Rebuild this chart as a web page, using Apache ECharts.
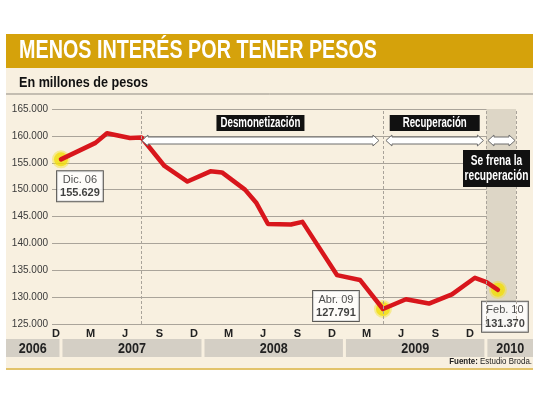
<!DOCTYPE html>
<html>
<head>
<meta charset="utf-8">
<script src="https://cdn.jsdelivr.net/npm/echarts@6/dist/echarts.min.js"></script>
<style>
html,body{margin:0;padding:0;background:#fff;}
#chart{width:540px;height:405px;}
</style>
</head>
<body>
<div id="chart"></div>
<script>
// ---- data ----
const titleText = 'MENOS INTERÉS POR TENER PESOS';
const subtitleText = 'En millones de pesos';
const sourceBold = 'Fuente:';
const sourceText = ' Estudio Broda.';
// month index: 0 = Dic 2006
const months = [0, 3, 4, 6, 7, 9, 11, 13, 14, 16, 17, 18, 20, 21, 22, 24, 26, 28, 30, 32, 34, 36, 37, 38];
const reserves = [155629, 158700, 160500, 159600, 159700, 154400, 151500, 153400, 153200, 150000, 147500, 143600,
                  143500, 144000, 140700, 134100, 133200, 127791, 129600, 128800, 130500, 133600, 132800, 131370];
const highlightMonths = [0, 28, 38];
const highlightValues = [155629, 127791, 131370];
const highlightNames = ['Dic. 06', 'Abr. 09', 'Feb. 10'];
const tickMonths = [0, 3, 6, 9, 12, 15, 18, 21, 24, 27, 30, 33, 36];
const tickLabels = ['D', 'M', 'J', 'S', 'D', 'M', 'J', 'S', 'D', 'M', 'J', 'S', 'D'];
const yearLabels = ['2006', '2007', '2008', '2009', '2010'];
const yearBoundaries = [0, 12.35, 24.65, 36.95]; // month positions of year breaks
const phaseNames = ['Desmonetización', 'Recuperación', 'Se frena la\nrecuperación'];
const phaseStart = [7, 28, 37];

// ---- style ----
const FONT = "'Liberation Sans', Arial, sans-serif";
const X_MIN = -0.78, X_MAX = 39.57;
const TICK_SHIFT = -0.43;
const BEIGE = '#f8f0e0';
const GOLD = '#d5a20b';

const fmt = v => (v / 1000).toFixed(3);

const mctx = document.createElement('canvas').getContext('2d');
function textW(text, font) {
  mctx.font = font;
  return Math.max.apply(null, text.split('\n').map(t => mctx.measureText(t).width));
}
function fitScale(text, font, target) { return target / textW(text, font); }

const chart = echarts.init(document.getElementById('chart'), null, {renderer: 'canvas'});

const option = {
  backgroundColor: '#ffffff',
  animation: false,
  grid: {left: 52, right: 24, top: 109, bottom: 81},
  xAxis: {
    type: 'value', min: X_MIN, max: X_MAX,
    axisLine: {show: false}, axisTick: {show: false}, splitLine: {show: false},
    axisLabel: {
      customValues: tickMonths.map(m => m + TICK_SHIFT),
      formatter: (v) => {
        const i = tickMonths.findIndex(m => Math.abs(m + TICK_SHIFT - v) < 0.01);
        return i >= 0 ? tickLabels[i] : '';
      },
      margin: 4, fontFamily: FONT, fontWeight: 'bold', fontSize: 11, color: '#222'
    }
  },
  yAxis: {
    type: 'value', min: 125000, max: 165000, interval: 5000,
    axisLine: {show: false}, axisTick: {show: false},
    splitLine: {lineStyle: {color: '#aaa49a', width: 1}},
    axisLabel: {formatter: fmt, fontFamily: FONT, fontSize: 10, color: '#3a3a3a', margin: 4}
  },
  series: [
    {
      type: 'scatter', z: 1,
      data: highlightMonths.map((m, i) => [m, highlightValues[i]]),
      symbolSize: 14,
      itemStyle: {color: '#f1dc00', borderColor: 'rgba(243,226,40,0.55)', borderWidth: 4},
      label: {
        show: true, position: 'inside',
        formatter: (p) => '{a|' + highlightNames[p.dataIndex] + '}\n{b|' + fmt(highlightValues[p.dataIndex]) + '}',
        backgroundColor: '#fff', borderColor: '#333', borderWidth: 1, padding: [2, 3, 1, 3],
        align: 'center', verticalAlign: 'middle',
        rich: {
          a: {fontFamily: FONT, fontSize: 11, color: '#222', lineHeight: 13, align: 'center'},
          b: {fontFamily: FONT, fontSize: 11, fontWeight: 'bold', color: '#111', lineHeight: 14, align: 'center'}
        }
      },
      labelLayout: (p) => {
        const offs = [[19, 27], [-47, -3], [7, 27]];
        const o = offs[p.dataIndex];
        return {x: p.rect.x + p.rect.width / 2 + o[0], y: p.rect.y + p.rect.height / 2 + o[1], align: 'center', verticalAlign: 'middle'};
      }
    },
    {
      type: 'line', z: 3,
      data: months.map((m, i) => [m, reserves[i]]),
      showSymbol: false, symbol: 'none',
      lineStyle: {color: '#d8161c', width: 4.5, join: 'round', cap: 'round'},
      markArea: {
        silent: true,
        itemStyle: {color: '#ddd6c6'},
        data: [[{xAxis: phaseStart[2]}, {xAxis: X_MAX}]]
      },
      markLine: {
        silent: true, symbol: 'none', label: {show: false},
        lineStyle: {color: '#a9a39a', type: [3, 2], width: 1},
        data: [{xAxis: phaseStart[0]}, {xAxis: phaseStart[1]}, {xAxis: phaseStart[2]}, {xAxis: X_MAX}]
      }
    }
  ]
};
chart.setOption(option);

function px(m) { return chart.convertToPixel({gridIndex: 0}, [m, 125000])[0]; }

const plotTop = chart.convertToPixel({gridIndex: 0}, [0, 165000])[1];
const plotRight = px(X_MAX);

const g = [];
function condensedText(x, y, text, font, fill, targetW, extra) {
  const el = {type: 'text', z: 21, x: x, y: y, scaleX: fitScale(text, font, targetW),
    style: Object.assign({text: text, fill: fill, font: font, verticalAlign: 'middle'}, extra || {})};
  g.push(el);
}
// panel background
g.push({type: 'rect', z: -10, shape: {x: 6, y: 34, width: 527, height: 335}, style: {fill: BEIGE}});
// header
g.push({type: 'rect', z: -5, shape: {x: 6, y: 34, width: 527, height: 34}, style: {fill: GOLD}});
condensedText(19, 50.5, titleText, "bold 26px " + FONT, '#fff', 358);
condensedText(19, 83, subtitleText, "bold 15px " + FONT, '#111', 129);
g.push({type: 'line', z: 10, shape: {x1: 6, y1: 94, x2: 533, y2: 94}, style: {stroke: '#8f8a82', lineWidth: 1}});
// bottom border
g.push({type: 'line', z: 10, shape: {x1: 6, y1: 369, x2: 533, y2: 369}, style: {stroke: '#e2c36a', lineWidth: 2}});
// source
g.push({type: 'text', z: 10, x: 532, y: 362, scaleX: 0.88, style: {
  text: '{b|' + sourceBold + '}{n|' + sourceText + '}', align: 'right', verticalAlign: 'middle',
  rich: {b: {font: "bold 9px " + FONT, fill: '#222'}, n: {font: "9px " + FONT, fill: '#222'}}
}});

// year band
const yb = [6].concat(yearBoundaries.map(px)).concat([533]);
for (let i = 0; i < yearLabels.length; i++) {
  const x1 = i === 0 ? yb[i] : yb[i] + 1.5;
  const x2 = i === yearLabels.length - 1 ? yb[i + 1] : yb[i + 1] - 1.5;
  g.push({type: 'rect', z: 5, shape: {x: x1, y: 339, width: x2 - x1, height: 18}, style: {fill: '#d4cfc5'}});
  condensedText((x1 + x2) / 2, 348.5, yearLabels[i], "bold 15px " + FONT, '#222', 28, {align: 'center'});
}

// phase arrows
function arrowPts(x1, x2, cy) {
  const hb = 3.5, hh = 5.5, hl = 6;
  return [[x1, cy], [x1 + hl, cy - hh], [x1 + hl, cy - hb], [x2 - hl, cy - hb], [x2 - hl, cy - hh], [x2, cy],
          [x2 - hl, cy + hh], [x2 - hl, cy + hb], [x1 + hl, cy + hb], [x1 + hl, cy + hh]];
}
const arrowY = plotTop + 31.5;
const ends = [px(phaseStart[1]) - 4, px(phaseStart[2]) - 3, plotRight - 1];
const starts = [px(phaseStart[0]) + 0.5, px(phaseStart[1]) + 3, px(phaseStart[2]) + 1.5];
for (let i = 0; i < 3; i++) {
  g.push({type: 'polygon', z: 20, shape: {points: arrowPts(starts[i], ends[i], arrowY)}, style: {fill: '#fff', stroke: '#6d6d6d', lineWidth: 1}});
}
// phase labels
const mid0 = (starts[0] + ends[0]) / 2, mid1 = (starts[1] + ends[1]) / 2;
const LBL = "bold 14px " + FONT;
g.push({type: 'rect', z: 20, shape: {x: mid0 - 44, y: plotTop + 6, width: 88, height: 16}, style: {fill: '#111'}});
condensedText(mid0, plotTop + 14.5, phaseNames[0], LBL, '#fff', 80, {align: 'center'});
g.push({type: 'rect', z: 20, shape: {x: mid1 - 45, y: plotTop + 6, width: 90, height: 16}, style: {fill: '#111'}});
condensedText(mid1, plotTop + 14.5, phaseNames[1], LBL, '#fff', 64, {align: 'center'});
g.push({type: 'rect', z: 20, shape: {x: plotRight - 53, y: plotTop + 41, width: 67, height: 37}, style: {fill: '#111'}});
condensedText(plotRight - 19.5, plotTop + 60, phaseNames[2], LBL, '#fff', 64, {align: 'center', lineHeight: 15});

chart.setOption({graphic: {elements: g}});
</script>
</body>
</html>
